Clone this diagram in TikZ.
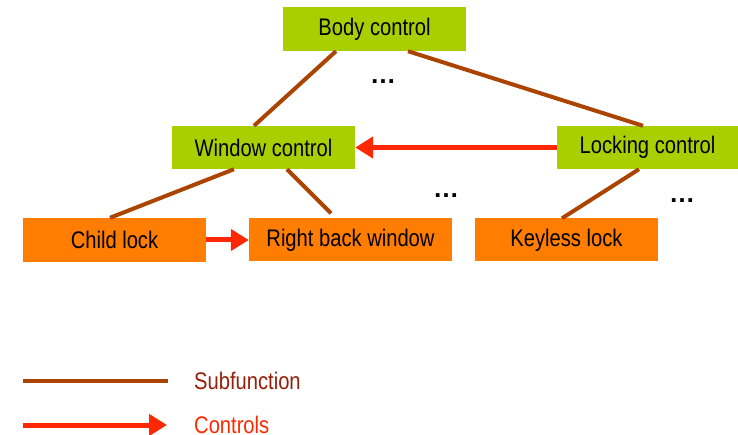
\documentclass[tikz,border=0pt]{standalone}
\usepackage{fontspec}
\setmainfont{Liberation Sans}
\newfontfamily\narrowsans[FakeStretch=0.84]{Liberation Sans}
\usetikzlibrary{arrows.meta}

\definecolor{funcgreen}{RGB}{170,207,0}
\definecolor{partorange}{RGB}{255,125,0}
\definecolor{subbrown}{RGB}{170,68,0}
\definecolor{ctrlred}{RGB}{255,40,0}
\definecolor{legendbrown}{RGB}{150,30,10}

\tikzset{
  x=1pt, y=-1pt,
  labeltext/.style={font=\narrowsans\fontsize{24}{28}\selectfont, text=black},
  funcbox/.style={labeltext, fill=funcgreen, inner sep=0pt, anchor=center},
  partbox/.style={labeltext, fill=partorange, inner sep=0pt, anchor=center},
  subline/.style={draw=subbrown, line width=4pt},
  ctrlarrow/.style={draw=ctrlred, line width=5pt,
    -{Triangle[length=18pt, width=21pt]}},
  dots/.style={font=\fontsize{26}{28}\selectfont\bfseries, inner sep=0pt, anchor=base},
  legendtext/.style={labeltext, anchor=base west, inner sep=0pt, text depth=0pt},
}

\begin{document}
\begin{tikzpicture}
  \useasboundingbox (0,0) rectangle (738,435);

  % functions
  \node[funcbox, minimum width=183pt, minimum height=44pt] (body) at (374.5,29) {Body control};
  \node[funcbox, minimum width=183pt, minimum height=43pt] (win) at (263.5,147.5) {Window control};
  \node[funcbox, minimum width=181pt, minimum height=43pt] (lock) at (647.5,147.5) {Locking control};

  % parts
  \node[partbox, minimum width=183pt, minimum height=44pt] (child) at (114.5,240) {Child lock};
  \node[partbox, minimum width=203pt, minimum height=43pt] (rbw) at (350.5,240) {Right back window};
  \node[partbox, minimum width=183pt, minimum height=43pt] (key) at (566.5,240) {Keyless lock};

  % omitted items
  \node[dots] (dotsA) at (383,84) {…};
  \node[dots] (dotsB) at (446,198) {…};
  \node[dots] (dotsC) at (682,203) {…};

  % subfunction relations
  \draw[subline] ([xshift=-38.5pt]body.south) -- ([xshift=-9.5pt]win.north);
  \draw[subline] ([xshift=33.5pt]body.south) -- ([xshift=-4.5pt]lock.north);
  \draw[subline] ([xshift=-29.5pt]win.south) -- ([xshift=-4.5pt]child.north);
  \draw[subline] ([xshift=23.5pt]win.south) -- ([xshift=-19.5pt, yshift=5pt]rbw.north);
  \draw[subline] ([xshift=-8.5pt]lock.south) -- ([xshift=-4.5pt]key.north);

  % control relations
  \draw[ctrlarrow] (lock.west) -- (win.east);
  \draw[ctrlarrow] (child.east) -- (rbw.west);

  % legend
  \coordinate (legSubA) at (23,381);
  \coordinate (legSubB) at (168,381);
  \coordinate (legCtrlA) at (23,425);
  \coordinate (legCtrlB) at (167,425);
  \draw[subline] (legSubA) -- (legSubB);
  \draw[ctrlarrow] (legCtrlA) -- (legCtrlB);
  \node[legendtext, text=legendbrown] (legSubText) at (194,389.5) {Subfunction};
  \node[legendtext, text=ctrlred] (legCtrlText) at (194,433) {Controls};
\end{tikzpicture}
\end{document}
